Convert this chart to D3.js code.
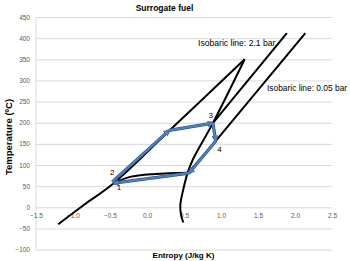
<!DOCTYPE html>
<html lang="en">
<head>
    <meta charset="UTF-8">
    <title>Surrogate fuel</title>
    <script src="https://d3js.org/d3.v7.min.js"></script>
    <style>
        body { margin: 0; background: #fff; }
        text { font-family: "Liberation Sans", Arial, sans-serif; }
    </style>
</head>
<body>
    <svg></svg>
    <script>
        const svgWidth = 350;
        const svgHeight = 261;

        // saturation dome, two branches meeting at the top
        const liquidSat = [[-1.2, -40], [-0.85, 6], [-0.45, 57], [0.3, 181], [1.32, 350]];
        const vaporSat = [[1.32, 350], [0.89, 199], [0.62, 113], [0.55, 82], [0.49, 42], [0.45, 5], [0.46, -18], [0.49, -36]];

        // isobaric lines
        const isobarHigh = [[0.3, 182], [0.89, 199], [1.89, 412]];
        const isobarLowCond = [[-0.45, 57], [-0.23, 72], [0.11, 79], [0.56, 82]];
        const isobarLowSuper = [[0.56, 82], [0.93, 157], [2.14, 412]];

        // cycle 1-2-3-4, drawn as segments with arrows at their ends
        const cycle = {
            p1: [-0.45, 57], p2: [-0.47, 60], pk: [0.3, 182],
            p3: [0.89, 199], p4: [0.93, 157], p5: [0.57, 81]
        };
        const cycleSegments = [
            [cycle.p2, cycle.pk],
            [cycle.pk, cycle.p3],
            [cycle.p3, cycle.p4],
            [cycle.p4, cycle.p5],
            [cycle.p5, cycle.p1]
        ];
        const pointLabels = [
            {t: "1", s: -0.38, T: 40}, {t: "2", s: -0.47, T: 77},
            {t: "3", s: 0.86, T: 212}, {t: "4", s: 0.98, T: 130}
        ];

        const xTicks = [-1.5, -1, -0.5, 0, 0.5, 1, 1.5, 2, 2.5];
        const yTicks = [-100, -50, 0, 50, 100, 150, 200, 250, 300, 350, 400, 450];

        const svg = d3.select('svg')
            .attr("width", svgWidth)
            .attr("height", svgHeight);

        const x = d3.scaleLinear().domain([-1.5, 2.5]).range([36, 332]);
        const y = d3.scaleLinear().domain([-100, 450]).range([249.6, 17]);

        // gridlines
        svg.append("g")
            .attr("transform", `translate(${x.range()[0]},0)`)
            .call(d3.axisLeft(y).tickValues(yTicks).tickSize(-(x.range()[1] - x.range()[0])).tickFormat(""))
            .call(g => g.select(".domain").remove())
            .call(g => g.selectAll("line").attr("stroke", "#d9d9d9").attr("stroke-width", 1));

        // vertical axis line
        svg.append("line")
            .attr("x1", x(-1.5)).attr("x2", x(-1.5))
            .attr("y1", y(450)).attr("y2", y(-100))
            .attr("stroke", "#d9d9d9");

        // y tick labels
        svg.append("g")
            .attr("transform", `translate(${x.range()[0]},0)`)
            .call(d3.axisLeft(y).tickValues(yTicks).tickSize(0).tickPadding(6))
            .call(g => g.select(".domain").remove())
            .call(g => g.selectAll("text")
                .attr("fill", "#595959")
                .style("font-size", "6.5px")
                .style("font-family", "Liberation Sans, Arial, sans-serif"));

        // x tick labels along the zero line
        svg.append("g")
            .attr("transform", `translate(0,${y(0)})`)
            .call(d3.axisBottom(x).tickValues(xTicks).tickSize(0).tickPadding(6))
            .call(g => g.select(".domain").remove())
            .call(g => g.selectAll("text")
                .attr("fill", "#595959")
                .style("font-size", "6.5px")
                .style("font-family", "Liberation Sans, Arial, sans-serif"));

        const line = d3.line().x(d => x(d[0])).y(d => y(d[1]));
        const smooth = d3.line().x(d => x(d[0])).y(d => y(d[1])).curve(d3.curveCatmullRom);

        const black = svg.append("g")
            .attr("fill", "none")
            .attr("stroke", "#000")
            .attr("stroke-width", 2)
            .attr("stroke-linejoin", "round");

        black.append("path").attr("d", smooth(liquidSat));
        black.append("path").attr("d", smooth(vaporSat));
        black.append("path").attr("d", line(isobarHigh));
        black.append("path").attr("d", smooth(isobarLowCond));
        black.append("path").attr("d", line(isobarLowSuper));

        // arrow marker
        const defs = svg.append("defs");
        defs.append("marker")
            .attr("id", "arrow")
            .attr("viewBox", "0 0 10 10")
            .attr("refX", 8).attr("refY", 5)
            .attr("markerWidth", 3.2).attr("markerHeight", 3.2)
            .attr("orient", "auto")
            .append("path")
            .attr("d", "M0,0L10,5L0,10Z")
            .attr("fill", "#4f81bd")
            .attr("stroke", "#2f528f")
            .attr("stroke-width", 0.8);

        const blue = svg.append("g").attr("fill", "none");
        blue.selectAll("path.under")
            .data(cycleSegments)
            .join("path")
            .attr("class", "under")
            .attr("d", d => line(d))
            .attr("stroke", "#2f528f")
            .attr("stroke-width", 3.2);
        blue.selectAll("path.over")
            .data(cycleSegments)
            .join("path")
            .attr("class", "over")
            .attr("d", d => line(d))
            .attr("stroke", "#4f81bd")
            .attr("stroke-width", 2)
            .attr("marker-end", "url(#arrow)");

        svg.append("g")
            .selectAll("text")
            .data(pointLabels)
            .join("text")
            .attr("x", d => x(d.s))
            .attr("y", d => y(d.T))
            .attr("text-anchor", "middle")
            .style("font-size", "8px")
            .attr("fill", "#000")
            .text(d => d.t);

        svg.append("text")
            .attr("x", 198).attr("y", 46)
            .style("font-size", "8.6px")
            .text("Isobaric line: 2.1 bar");
        svg.append("text")
            .attr("x", 267).attr("y", 91)
            .style("font-size", "8.4px")
            .text("Isobaric line: 0.05 bar");

        // titles
        svg.append("text")
            .attr("x", 164.5).attr("y", 11)
            .attr("text-anchor", "middle")
            .style("font-size", "8.5px").style("font-weight", "bold")
            .text("Surrogate fuel");
        svg.append("text")
            .attr("x", 183.5).attr("y", 258)
            .attr("text-anchor", "middle")
            .style("font-size", "8px").style("font-weight", "bold")
            .text("Entropy (J/kg K)");
        svg.append("text")
            .attr("transform", "translate(11.5,137) rotate(-90)")
            .attr("text-anchor", "middle")
            .style("font-size", "9.5px").style("font-weight", "bold")
            .text("Temperature (ºC)");
    </script>
</body>
</html>
